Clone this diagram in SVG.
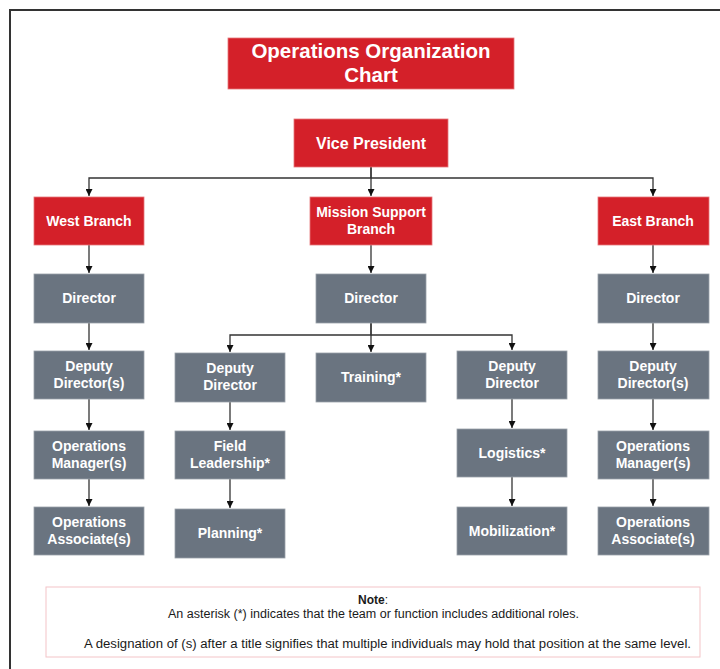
<svg xmlns="http://www.w3.org/2000/svg" width="720" height="669" viewBox="0 0 720 669">
  <style>
    .red { fill: #d42029; stroke: #e5777b; stroke-width: 0.8; }
    .grey { fill: #6a7480; stroke: #9aa1a9; stroke-width: 0.8; }
    .lbl { font-family: "Liberation Sans", Arial, sans-serif; font-weight: bold; fill: #ffffff; text-anchor: middle; font-size: 14px; }
    .big { font-size: 16px; }
    .title { font-size: 20.5px; }
    .conn { fill: none; stroke: #333333; stroke-width: 1.3; }
    .note { font-family: "Liberation Sans", Arial, sans-serif; fill: #1a1a1a; text-anchor: middle; font-size: 12px; }
  </style>
  <defs>
    <marker id="arrow" viewBox="0 0 10 10" refX="10" refY="5" markerWidth="7" markerHeight="7" markerUnits="userSpaceOnUse" orient="auto">
      <path d="M0,0 L10,5 L0,10 Z" fill="#111111"/>
    </marker>
  </defs>

  <rect width="720" height="669" fill="#ffffff"/>
  <!-- page frame -->
  <rect x="10" y="10" width="730" height="700" fill="none" stroke="#333333" stroke-width="2"/>

  <!-- connectors -->
  <g id="connectors" class="conn" marker-end="url(#arrow)">
    <path d="M371,167 V178 H89 V196"/>
    <path d="M371,167 V196"/>
    <path d="M371,178 H653 V196"/>
    <path d="M89,245 V273"/>
    <path d="M371,245 V273"/>
    <path d="M653,245 V273"/>
    <path d="M89,323 V350"/>
    <path d="M371,323 V335 H230 V352"/>
    <path d="M371,323 V352"/>
    <path d="M371,335 H512 V350"/>
    <path d="M653,323 V350"/>
    <path d="M89,399 V430"/>
    <path d="M230,402 V430"/>
    <path d="M512,399 V428"/>
    <path d="M653,399 V430"/>
    <path d="M89,479 V506"/>
    <path d="M230,479 V508"/>
    <path d="M512,477 V506"/>
    <path d="M653,479 V506"/>
  </g>

  <g id="title">
    <rect class="red" x="228" y="38" width="286" height="51"/>
    <text class="lbl title" x="371" y="58">Operations Organization</text>
    <text class="lbl title" x="371" y="82">Chart</text>
  </g>

  <g id="vice-president">
    <rect class="red" x="294" y="119" width="154" height="48"/>
    <text class="lbl big" x="371" y="149">Vice President</text>
  </g>

  <g id="west-branch">
    <rect class="red" x="34" y="197" width="110" height="48"/>
    <text class="lbl" x="89" y="226">West Branch</text>
  </g>
  <g id="mission-support-branch">
    <rect class="red" x="310" y="197" width="122" height="48"/>
    <text class="lbl" x="371" y="217">Mission Support</text>
    <text class="lbl" x="371" y="234">Branch</text>
  </g>
  <g id="east-branch">
    <rect class="red" x="598" y="197" width="111" height="48"/>
    <text class="lbl" x="653" y="226">East Branch</text>
  </g>

  <g id="west-director">
    <rect class="grey" x="34" y="274" width="110" height="49"/>
    <text class="lbl" x="89" y="303">Director</text>
  </g>
  <g id="mission-director">
    <rect class="grey" x="316" y="274" width="110" height="49"/>
    <text class="lbl" x="371" y="303">Director</text>
  </g>
  <g id="east-director">
    <rect class="grey" x="598" y="274" width="111" height="49"/>
    <text class="lbl" x="653" y="303">Director</text>
  </g>

  <g id="west-deputy">
    <rect class="grey" x="34" y="351" width="110" height="48"/>
    <text class="lbl" x="89" y="371">Deputy</text>
    <text class="lbl" x="89" y="388">Director(s)</text>
  </g>
  <g id="mission-deputy-left">
    <rect class="grey" x="175" y="353" width="110" height="49"/>
    <text class="lbl" x="230" y="373">Deputy</text>
    <text class="lbl" x="230" y="390">Director</text>
  </g>
  <g id="training">
    <rect class="grey" x="316" y="353" width="110" height="49"/>
    <text class="lbl" x="371" y="382">Training*</text>
  </g>
  <g id="mission-deputy-right">
    <rect class="grey" x="457" y="351" width="110" height="48"/>
    <text class="lbl" x="512" y="371">Deputy</text>
    <text class="lbl" x="512" y="388">Director</text>
  </g>
  <g id="east-deputy">
    <rect class="grey" x="598" y="351" width="111" height="48"/>
    <text class="lbl" x="653" y="371">Deputy</text>
    <text class="lbl" x="653" y="388">Director(s)</text>
  </g>

  <g id="west-manager">
    <rect class="grey" x="34" y="431" width="110" height="48"/>
    <text class="lbl" x="89" y="451">Operations</text>
    <text class="lbl" x="89" y="468">Manager(s)</text>
  </g>
  <g id="field-leadership">
    <rect class="grey" x="175" y="431" width="110" height="48"/>
    <text class="lbl" x="230" y="451">Field</text>
    <text class="lbl" x="230" y="468">Leadership*</text>
  </g>
  <g id="logistics">
    <rect class="grey" x="457" y="429" width="110" height="48"/>
    <text class="lbl" x="512" y="458">Logistics*</text>
  </g>
  <g id="east-manager">
    <rect class="grey" x="598" y="431" width="111" height="48"/>
    <text class="lbl" x="653" y="451">Operations</text>
    <text class="lbl" x="653" y="468">Manager(s)</text>
  </g>

  <g id="west-associate">
    <rect class="grey" x="34" y="507" width="110" height="48"/>
    <text class="lbl" x="89" y="527">Operations</text>
    <text class="lbl" x="89" y="544">Associate(s)</text>
  </g>
  <g id="planning">
    <rect class="grey" x="175" y="509" width="110" height="49"/>
    <text class="lbl" x="230" y="538">Planning*</text>
  </g>
  <g id="mobilization">
    <rect class="grey" x="457" y="507" width="110" height="48"/>
    <text class="lbl" x="512" y="536">Mobilization*</text>
  </g>
  <g id="east-associate">
    <rect class="grey" x="598" y="507" width="111" height="48"/>
    <text class="lbl" x="653" y="527">Operations</text>
    <text class="lbl" x="653" y="544">Associate(s)</text>
  </g>

  <g id="note">
    <rect x="46" y="587" width="654" height="70" fill="#ffffff" stroke="#f3c4c7" stroke-width="1"/>
    <text class="note" x="373" y="604"><tspan font-weight="bold">Note</tspan>:</text>
    <text class="note" x="373.5" y="618" textLength="411" lengthAdjust="spacingAndGlyphs">An asterisk (*) indicates that the team or function includes additional roles.</text>
    <text class="note" x="387.5" y="648" textLength="607" lengthAdjust="spacingAndGlyphs">A designation of (s) after a title signifies that multiple individuals may hold that position at the same level.</text>
  </g>
</svg>
